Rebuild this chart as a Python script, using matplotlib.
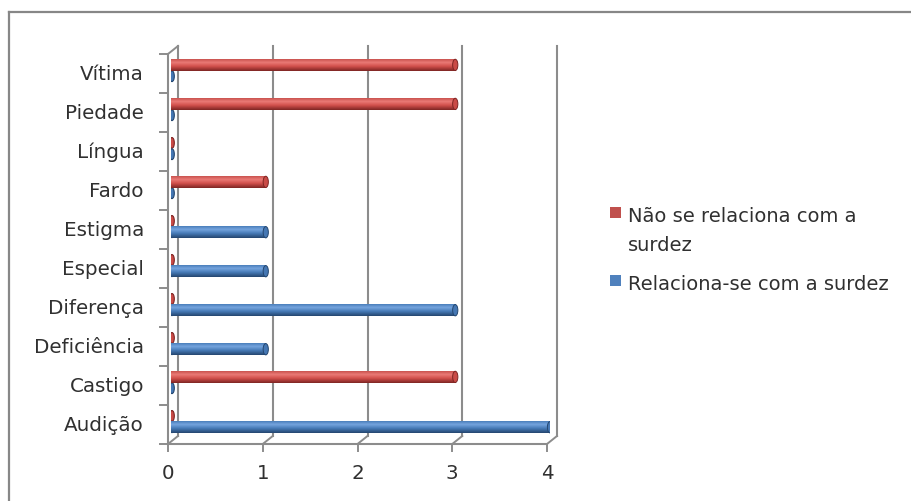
import matplotlib.pyplot as plt
import numpy as np
from matplotlib.colors import LinearSegmentedColormap
from matplotlib.patches import Ellipse, Rectangle
from matplotlib.lines import Line2D
from matplotlib.transforms import ScaledTranslation, IdentityTransform

plt.rcParams['font.family'] = ['DejaVu Sans']

# Dados
categorias = ["Audição", "Castigo", "Deficiência", "Diferença", "Especial",
              "Estigma", "Fardo", "Língua", "Piedade", "Vítima"]
nao_relaciona = [0, 3, 0, 0, 0, 0, 1, 0, 3, 3]
relaciona = [4, 0, 1, 3, 1, 1, 0, 0, 0, 0]
x_ticks = [0, 1, 2, 3, 4]
legenda = ["Não se relaciona com a", "surdez", "Relaciona-se com a surdez"]

W, H = 912, 502
fig = plt.figure(figsize=(W / 100, H / 100), dpi=100)

# plano das barras (em pixels)
x0_px, x4_px = 171, 550
ytop_px, ybot_px = 50.5, 440.5
ax = fig.add_axes([x0_px / W, 1 - ybot_px / H,
                   (x4_px - x0_px) / W, (ybot_px - ytop_px) / H])
ax.axis('off')

def shifted(dx, dy):
    return ax.transData + ScaledTranslation(dx / 100, dy / 100, fig.dpi_scale_trans)

back = shifted(7, 3.5)
front = shifted(-3, -4.5)
ymin, ymax = -0.5, len(categorias) - 0.5
grid_c = '#8c8c8c'
txt_c = '#303030'

ax.set_xlim(0, 4)
ax.set_ylim(ymin, ymax)

def px_line(p, q, **kw):
    fig.add_artist(Line2D([p[0], q[0]], [p[1], q[1]], transform=IdentityTransform(),
                          color=grid_c, lw=1.4, zorder=1, **kw))

# parede do fundo e grelha
for k in x_ticks:
    ax.plot([k, k], [ymin, ymax], transform=back, color=grid_c, lw=1.5,
            zorder=1, clip_on=False)

# eixos da frente
ax.plot([0, 0], [ymin, ymax], transform=front, color=grid_c, lw=1.5, clip_on=False)
ax.plot([0, 4], [ymin, ymin], transform=front, color=grid_c, lw=1.5, clip_on=False)

# ligações entre frente e fundo
fig.canvas.draw()
for k in x_ticks:
    b = back.transform((k, ymin))
    f = front.transform((k, ymin))
    px_line(b, f)
    px_line(f, (f[0], f[1] - 7))
b = back.transform((0, ymax))
f = front.transform((0, ymax))
px_line(b, f)
for yb in np.arange(ymin, ymax + 0.01, 1.0):
    f = front.transform((0, yb))
    px_line((f[0] - 8, f[1]), f)

# barras cilíndricas
h = 0.29
off = 0.145
shift = -0.04
cmap_red = LinearSegmentedColormap.from_list(
    'verm', [(0, '#c9524e'), (0.28, '#ea7a76'), (0.6, '#d2504c'), (1, '#7e2523')])
cmap_blue = LinearSegmentedColormap.from_list(
    'azul', [(0, '#4a7ebb'), (0.28, '#75a4de'), (0.6, '#477bb8'), (1, '#24466f')])
grad = np.linspace(0, 1, 64).reshape(-1, 1)

def barras(vals, ys, cmap, cap, edge):
    bars = ax.barh(ys, vals, height=h, color='none', zorder=2)
    for bar, v in zip(bars, vals):
        y0 = bar.get_y()
        yc = y0 + h / 2
        ax.add_patch(Ellipse((0.01, yc), 0.05, h * 0.95, fc=cap, ec=edge, lw=0.8,
                             zorder=2))
        if v > 0:
            ax.imshow(grad, extent=[0, v, y0, y0 + h], origin='upper', cmap=cmap,
                      aspect='auto', interpolation='bilinear', zorder=2.2)
            ax.add_patch(Ellipse((v, yc), 0.055, h, fc=cap, ec=edge, lw=0.7,
                                 zorder=2.4))

ys = np.arange(len(categorias))
barras(nao_relaciona, ys + off + shift, cmap_red, '#c94b47', '#7e2523')
barras(relaciona, ys - off + shift, cmap_blue, '#4577b3', '#24466f')
ax.set_xlim(0, 4)
ax.set_ylim(ymin, ymax)

# rótulos
lab_t = shifted(-27, -4.5)
for i, cat in enumerate(categorias):
    ax.text(0, i, cat, transform=lab_t, ha='right', va='center',
            fontsize=14.3, color=txt_c)
num_t = shifted(-3, -4.5 - 29)
for k in x_ticks:
    ax.text(k, ymin, str(k), transform=num_t, ha='center', va='center',
            fontsize=14.3, color=txt_c)

# legenda
fig.add_artist(Rectangle((610 / W, 1 - 219 / H), 11 / W, 11 / H,
                         transform=fig.transFigure, fc='#c0504d', ec='none'))
fig.add_artist(Rectangle((610 / W, 1 - 287 / H), 11 / W, 11 / H,
                         transform=fig.transFigure, fc='#4f81bd', ec='none'))
for txt, yb in zip(legenda, [221.5, 251.5, 290]):
    fig.text(628 / W, 1 - yb / H, txt, ha='left', va='baseline',
             fontsize=14, color=txt_c)

# moldura
fig.add_artist(Line2D([9 / W, 1], [1 - 13 / H] * 2, transform=fig.transFigure,
                      color='#878787', lw=1.6))
fig.add_artist(Line2D([9 / W] * 2, [0, 1 - 13 / H], transform=fig.transFigure,
                      color='#878787', lw=1.6))

fig.savefig('out.png', dpi=100)
